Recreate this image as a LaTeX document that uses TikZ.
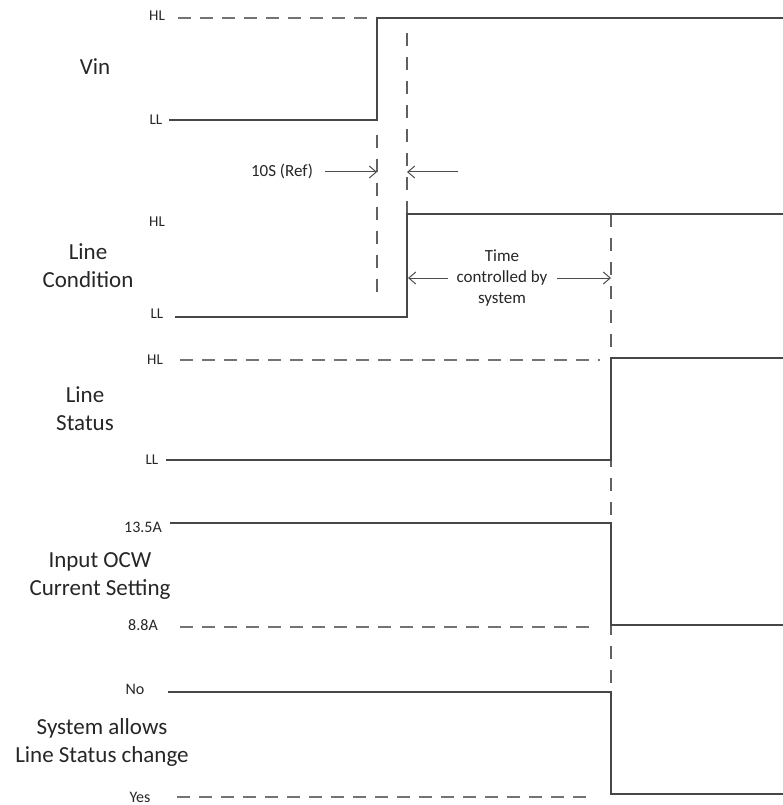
\documentclass[tikz,border=0pt]{standalone}
\usepackage{fontspec}
\setmainfont{Carlito}
\usepackage{tikz}
\usetikzlibrary{arrows.meta, calc}
\tikzset{
  signal/.style={draw=black!72, line width=1.2pt},
  level/.style={draw=black!55, line width=1.2pt, dash pattern=on 13pt off 9pt},
  guide/.style={draw=black!62, line width=1.2pt, dash pattern=on 13pt off 11pt},
  signame/.style={font=\fontsize{23}{28}\selectfont, align=center, text=black!85},
  lvlname/.style={font=\fontsize{15}{18}\selectfont, text=black!85, inner sep=1pt},
  note/.style={font=\fontsize{17}{21}\selectfont, align=center, text=black!85},
  dimarrow/.style={draw=black!70, line width=1pt, -{Straight Barb[length=7pt,width=12pt]}}
}

\begin{document}
\begin{tikzpicture}[x=1pt, y=-1pt]
    \useasboundingbox (0,0) rectangle (783,805);

    % 1. Nombres de las senales
    \node[signame] (nVin) at (95,67) {Vin};
    \node[signame] (nCond) at (88,266) {Line\\Condition};
    \node[signame] (nStat) at (85,409) {Line\\Status};
    \node[signame] (nOcw) at (100,576) {Input OCW\\Current Setting};
    \node[signame] (nAllow) at (102,742) {System allows\\Line Status change};

    % 2. Niveles
    \node[lvlname] (vinHL) at (157,16) {HL};
    \node[lvlname] (vinLL) at (156,120) {LL};
    \node[lvlname] (condHL) at (157,222) {HL};
    \node[lvlname] (condLL) at (157,314) {LL};
    \node[lvlname] (statHL) at (155,360) {HL};
    \node[lvlname] (statLL) at (152,460) {LL};
    \node[lvlname, font=\fontsize{16}{18}\selectfont] (ocwHi) at (143,527) {13.5A};
    \node[lvlname, font=\fontsize{16}{18}\selectfont] (ocwLo) at (143,625) {8.8A};
    \node[lvlname, font=\fontsize{16}{18}\selectfont] (allowNo) at (135,689) {No};
    \node[lvlname, font=\fontsize{16}{18}\selectfont] (allowYes) at (140,797) {Yes};

    % 3. Puntos de cambio
    \coordinate (vinUp) at (377,18);
    \coordinate (vinDn) at (377,120);
    \coordinate (condUp) at (407,214);
    \coordinate (condDn) at (407,317);
    \coordinate (statUp) at (611,358);
    \coordinate (statDn) at (611,460);
    \coordinate (ocwUp) at (611,523);
    \coordinate (ocwDn) at (611,625);
    \coordinate (allowUp) at (611,692);
    \coordinate (allowDn) at (611,794);

    % 4. Lineas guia verticales
    \draw[guide] (377,135) -- (377,300);
    \draw[guide] (407,33) -- (condUp);
    \draw[guide] (611,214) -- (allowUp);

    % 5. Senales
    % Vin
    \draw[level] (178,18) -- (372,18);
    \draw[signal] (169,120) -- (vinDn) -- (vinUp) -- (783,18);
    % Line Condition
    \draw[signal] (175,317) -- (condDn) -- (condUp) -- (783,214);
    % Line Status
    \draw[level] (180,360) -- (600,360);
    \draw[signal] (166,460) -- (statDn) -- (statUp) -- (783,358);
    % Input OCW
    \draw[signal] (170,523) -- (ocwUp) -- (ocwDn) -- (783,625);
    \draw[level] (180,627) -- (592,627);
    % System allows
    \draw[signal] (168,692) -- (allowUp) -- (allowDn) -- (783,794);
    \draw[level] (177,797) -- (590,797);

    % 6. Cotas de tiempo
    \node[note] (tRef) at (282,171) {10S (Ref)};
    \coordinate (refL) at (325,172);
    \coordinate (refR) at (458,172);
    \draw[dimarrow] (refL) -- (377,172);
    \draw[dimarrow] (refR) -- (407,172);

    \node[note] (tSys) at (502,278) {Time\\controlled by\\system};
    \coordinate (sysL) at (448,278);
    \coordinate (sysR) at (557,278);
    \draw[dimarrow] (sysL) -- (408,278);
    \draw[dimarrow] (sysR) -- (611,278);

\end{tikzpicture}
\end{document}
